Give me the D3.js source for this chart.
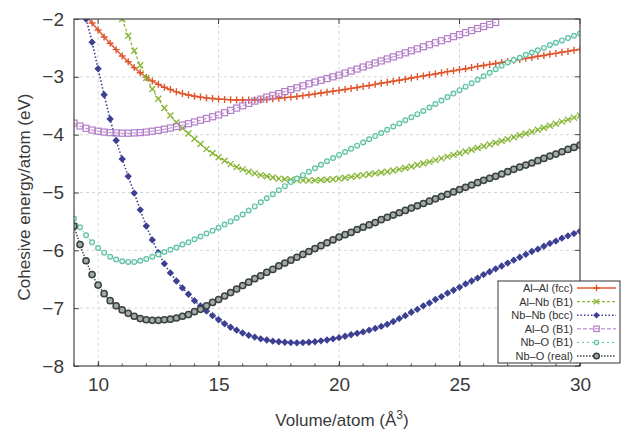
<!DOCTYPE html>
<html><head><meta charset="utf-8">
<script src="https://cdn.jsdelivr.net/npm/d3@7"></script>
<style>
html,body{margin:0;padding:0;background:#fff;}
text{font-family:"Liberation Sans",Arial,sans-serif;}
</style></head>
<body><svg id="chart" width="623" height="431"></svg>
<script>
// Volumes (Å^3), sampled every 0.25 from 9 to 30
const volumes = [9,9.25,9.5,9.75,10,10.25,10.5,10.75,11,11.25,11.5,11.75,12,12.25,12.5,12.75,13,13.25,13.5,13.75,14,14.25,14.5,14.75,15,15.25,15.5,15.75,16,16.25,16.5,16.75,17,17.25,17.5,17.75,18,18.25,18.5,18.75,19,19.25,19.5,19.75,20,20.25,20.5,20.75,21,21.25,21.5,21.75,22,22.25,22.5,22.75,23,23.25,23.5,23.75,24,24.25,24.5,24.75,25,25.25,25.5,25.75,26,26.25,26.5,26.75,27,27.25,27.5,27.75,28,28.25,28.5,28.75,29,29.25,29.5,29.75,30];

// Cohesive energy per atom (eV); null = outside plotted range
const alAl = [null,null,-1.94,-2.07,-2.19,-2.31,-2.42,-2.53,-2.64,-2.74,-2.84,-2.93,-3.01,-3.07,-3.13,-3.18,-3.22,-3.26,-3.29,-3.315,-3.335,-3.35,-3.365,-3.375,-3.385,-3.39,-3.395,-3.40,-3.40,-3.40,-3.40,-3.395,-3.39,-3.38,-3.37,-3.36,-3.35,-3.34,-3.325,-3.31,-3.295,-3.28,-3.265,-3.25,-3.235,-3.22,-3.20,-3.185,-3.165,-3.15,-3.13,-3.11,-3.095,-3.075,-3.06,-3.04,-3.02,-3.00,-2.985,-2.965,-2.95,-2.93,-2.91,-2.895,-2.875,-2.86,-2.84,-2.82,-2.805,-2.785,-2.77,-2.75,-2.735,-2.715,-2.70,-2.68,-2.665,-2.645,-2.63,-2.61,-2.595,-2.575,-2.56,-2.54,-2.525];

const alNb = [null,null,null,null,null,null,null,null,-2.00,-2.29,-2.55,-2.80,-3.02,-3.21,-3.38,-3.54,-3.67,-3.79,-3.89,-3.98,-4.07,-4.16,-4.25,-4.32,-4.39,-4.45,-4.51,-4.56,-4.60,-4.64,-4.67,-4.70,-4.72,-4.74,-4.76,-4.77,-4.78,-4.785,-4.79,-4.79,-4.79,-4.785,-4.78,-4.77,-4.76,-4.745,-4.73,-4.715,-4.70,-4.685,-4.67,-4.655,-4.64,-4.62,-4.60,-4.575,-4.55,-4.525,-4.50,-4.47,-4.44,-4.41,-4.38,-4.35,-4.32,-4.29,-4.26,-4.23,-4.20,-4.17,-4.14,-4.11,-4.08,-4.045,-4.01,-3.98,-3.95,-3.915,-3.88,-3.845,-3.81,-3.775,-3.74,-3.705,-3.67];

const nbNb = [null,null,-2.00,-2.40,-2.86,-3.31,-3.73,-4.10,-4.42,-4.72,-5.01,-5.30,-5.58,-5.82,-6.04,-6.23,-6.39,-6.53,-6.65,-6.76,-6.87,-6.96,-7.05,-7.13,-7.20,-7.27,-7.33,-7.38,-7.43,-7.47,-7.50,-7.53,-7.55,-7.57,-7.58,-7.59,-7.595,-7.60,-7.595,-7.59,-7.58,-7.565,-7.55,-7.53,-7.51,-7.485,-7.46,-7.435,-7.41,-7.38,-7.35,-7.315,-7.28,-7.23,-7.18,-7.13,-7.07,-7.02,-6.96,-6.91,-6.85,-6.80,-6.74,-6.69,-6.64,-6.58,-6.53,-6.48,-6.42,-6.37,-6.32,-6.27,-6.22,-6.17,-6.12,-6.07,-6.02,-5.98,-5.93,-5.88,-5.84,-5.79,-5.75,-5.71,-5.67];

const alO = [-3.80,-3.85,-3.89,-3.92,-3.94,-3.955,-3.965,-3.97,-3.975,-3.975,-3.97,-3.965,-3.955,-3.94,-3.925,-3.905,-3.885,-3.86,-3.835,-3.81,-3.78,-3.75,-3.72,-3.69,-3.66,-3.62,-3.58,-3.54,-3.50,-3.46,-3.42,-3.385,-3.35,-3.32,-3.29,-3.255,-3.22,-3.19,-3.155,-3.12,-3.09,-3.06,-3.03,-3.00,-2.97,-2.935,-2.90,-2.865,-2.83,-2.795,-2.76,-2.725,-2.69,-2.655,-2.62,-2.585,-2.55,-2.515,-2.48,-2.445,-2.41,-2.375,-2.34,-2.305,-2.27,-2.235,-2.20,-2.165,-2.13,-2.095,-2.06,null,null,null,null,null,null,null,null,null,null,null,null,null,null];

const nbOB1 = [-5.45,-5.60,-5.74,-5.86,-5.96,-6.04,-6.11,-6.16,-6.19,-6.20,-6.20,-6.18,-6.15,-6.11,-6.07,-6.03,-5.99,-5.95,-5.90,-5.86,-5.81,-5.76,-5.71,-5.66,-5.61,-5.555,-5.50,-5.44,-5.38,-5.31,-5.24,-5.17,-5.10,-5.03,-4.96,-4.89,-4.82,-4.76,-4.70,-4.64,-4.58,-4.52,-4.46,-4.405,-4.35,-4.30,-4.245,-4.19,-4.135,-4.08,-4.025,-3.97,-3.915,-3.86,-3.805,-3.75,-3.70,-3.645,-3.59,-3.53,-3.47,-3.41,-3.35,-3.29,-3.23,-3.17,-3.11,-3.05,-2.99,-2.93,-2.87,-2.81,-2.75,-2.71,-2.67,-2.62,-2.58,-2.54,-2.50,-2.45,-2.41,-2.37,-2.33,-2.29,-2.25];

const nbOreal = [-5.58,-5.90,-6.18,-6.42,-6.60,-6.75,-6.87,-6.96,-7.03,-7.09,-7.14,-7.18,-7.20,-7.21,-7.21,-7.20,-7.19,-7.17,-7.14,-7.11,-7.06,-7.02,-6.96,-6.90,-6.85,-6.79,-6.73,-6.67,-6.61,-6.55,-6.49,-6.44,-6.38,-6.33,-6.27,-6.22,-6.17,-6.12,-6.07,-6.02,-5.97,-5.92,-5.87,-5.82,-5.77,-5.73,-5.69,-5.64,-5.60,-5.56,-5.52,-5.47,-5.43,-5.39,-5.35,-5.31,-5.27,-5.23,-5.19,-5.15,-5.11,-5.07,-5.03,-4.99,-4.95,-4.91,-4.87,-4.83,-4.79,-4.755,-4.72,-4.68,-4.64,-4.60,-4.56,-4.525,-4.49,-4.45,-4.41,-4.37,-4.335,-4.295,-4.255,-4.22,-4.18];

const seriesNames = ["Al\u2013Al (fcc)","Al\u2013Nb (B1)","Nb\u2013Nb (bcc)","Al\u2013O (B1)","Nb\u2013O (B1)","Nb\u2013O (real)"];
const seriesValues = [alAl, alNb, nbNb, alO, nbOB1, nbOreal];
const xTicks = [10,15,20,25,30];
const yTicks = [-2,-3,-4,-5,-6,-7,-8];

const styles = [
  {color:"#e0562c", dash:null, width:1.4, marker:"plus"},
  {color:"#86b534", dash:"3,2", width:1.2, marker:"cross"},
  {color:"#3c3f92", dash:"1.5,2", width:1.6, marker:"square"},
  {color:"#b27ec8", dash:"4,2", width:1.0, marker:"osquare"},
  {color:"#5fc0a6", dash:"2,3", width:1.0, marker:"ocircle"},
  {color:"#3a4141", dash:"1.5,1.5", width:1.4, marker:"circle"}
];

const svg = d3.select("#chart");
const m = {l:74, r:580, t:19, b:366};
const x = d3.scaleLinear().domain([9,30]).range([m.l, m.r]);
const y = d3.scaleLinear().domain([-8,-2]).range([m.b, m.t]);

svg.append("defs").append("clipPath").attr("id","clip")
  .append("rect").attr("x",m.l).attr("y",m.t).attr("width",m.r-m.l).attr("height",m.b-m.t);

// grid
const grid = svg.append("g");
grid.selectAll("line.gx").data(xTicks.filter(d=>d>9&&d<30)).join("line")
  .attr("x1",d=>x(d)).attr("x2",d=>x(d)).attr("y1",m.t).attr("y2",m.b)
  .attr("stroke","#d6d6d6").attr("stroke-width",1).attr("stroke-dasharray","3,3");
grid.selectAll("line.gy").data(yTicks.filter(d=>d>-8&&d<-2)).join("line")
  .attr("y1",d=>y(d)).attr("y2",d=>y(d)).attr("x1",m.l).attr("x2",m.r)
  .attr("stroke","#d6d6d6").attr("stroke-width",1).attr("stroke-dasharray","3,3");

// series
const plot = svg.append("g").attr("clip-path","url(#clip)");
seriesValues.forEach((vals,i)=>{
  const st = styles[i];
  const pts = volumes.map((v,j)=>[v, vals[j]]).filter(p=>p[1]!==null);
  const line = d3.line().x(d=>x(d[0])).y(d=>y(d[1])).curve(d3.curveMonotoneX);
  plot.append("path").attr("d",line(pts)).attr("fill","none")
    .attr("stroke",st.color).attr("stroke-width",st.width)
    .attr("stroke-dasharray",st.dash);
  const g = plot.append("g");
  pts.forEach(p=>drawMarker(g, x(p[0]), y(p[1]), st, 1));
});

function drawMarker(g, cx, cy, st, s){
  const c = st.color;
  if(st.marker==="plus"){
    g.append("path").attr("d",`M${cx-3.5*s},${cy}H${cx+3.5*s}M${cx},${cy-3.5*s}V${cy+3.5*s}`)
      .attr("stroke",c).attr("stroke-width",1.4).attr("fill","none");
  } else if(st.marker==="cross"){
    g.append("path").attr("d",`M${cx-3*s},${cy-3*s}L${cx+3*s},${cy+3*s}M${cx-3*s},${cy+3*s}L${cx+3*s},${cy-3*s}`)
      .attr("stroke",c).attr("stroke-width",1.3).attr("fill","none");
  } else if(st.marker==="square"){
    g.append("rect").attr("x",cx-2.6*s).attr("y",cy-2.6*s).attr("width",5.2*s).attr("height",5.2*s)
      .attr("fill",c).attr("transform",`rotate(45,${cx},${cy})`);
  } else if(st.marker==="osquare"){
    g.append("rect").attr("x",cx-3*s).attr("y",cy-3*s).attr("width",6*s).attr("height",6*s)
      .attr("fill","none").attr("stroke",c).attr("stroke-width",1.2);
  } else if(st.marker==="ocircle"){
    g.append("circle").attr("cx",cx).attr("cy",cy).attr("r",2.4*s)
      .attr("fill","#e8f6f1").attr("stroke",c).attr("stroke-width",1.2);
  } else if(st.marker==="circle"){
    g.append("circle").attr("cx",cx).attr("cy",cy).attr("r",3.1*s)
      .attr("fill","#a3aaaa").attr("stroke",c).attr("stroke-width",1.5);
  }
}

// frame
svg.append("rect").attr("x",m.l).attr("y",m.t).attr("width",m.r-m.l).attr("height",m.b-m.t)
  .attr("fill","none").attr("stroke","#444").attr("stroke-width",1.2);

// axes
const xAxis = d3.axisBottom(x).tickValues(xTicks).tickSize(-5).tickPadding(12).tickFormat(d3.format("d"));
const gx = svg.append("g").attr("transform",`translate(0,${m.b})`).call(xAxis);
const yAxis = d3.axisLeft(y).tickValues(yTicks).tickSize(-5).tickPadding(10).tickFormat(d3.format("d"));
const gy = svg.append("g").attr("transform",`translate(${m.l},0)`).call(yAxis);
[gx,gy].forEach(g=>{
  g.select(".domain").remove();
  g.selectAll(".tick line").attr("stroke","#444");
  g.selectAll(".tick text").attr("font-size",19).attr("fill","#3a3a3a").attr("font-family","Liberation Sans, Arial, sans-serif");
});
// minor ticks
const minorX = d3.range(9,30.01,1);
svg.append("g").selectAll("line").data(minorX).join("line")
  .attr("x1",d=>x(d)).attr("x2",d=>x(d)).attr("y1",m.b).attr("y2",m.b-2.5).attr("stroke","#444");
// mirrored major ticks on top and right
svg.append("g").selectAll("line").data(xTicks).join("line")
  .attr("x1",d=>x(d)).attr("x2",d=>x(d)).attr("y1",m.t).attr("y2",m.t+5).attr("stroke","#444");
svg.append("g").selectAll("line").data(yTicks).join("line")
  .attr("y1",d=>y(d)).attr("y2",d=>y(d)).attr("x1",m.r).attr("x2",m.r-5).attr("stroke","#444");

// axis titles
svg.append("text").attr("x",342).attr("y",426).attr("text-anchor","middle")
  .attr("font-size",17).attr("fill","#3a3a3a")
  .html('Volume/atom (Å<tspan dy="-7" font-size="12">3</tspan><tspan dy="7">)</tspan>');
svg.append("text").attr("transform","translate(30,197) rotate(-90)").attr("text-anchor","middle")
  .attr("font-size",17).attr("fill","#3a3a3a").text("Cohesive energy/atom (eV)");

// legend
const lg = svg.append("g");
lg.append("rect").attr("x",498).attr("y",281).attr("width",122).attr("height",82)
  .attr("fill","#fff").attr("stroke","#333").attr("stroke-width",1);
seriesNames.forEach((name,i)=>{
  const ly = 288 + i*13.6;
  lg.append("text").attr("x",573).attr("y",ly+4).attr("text-anchor","end")
    .attr("font-size",11).attr("fill","#333").text(name);
  const st = styles[i];
  lg.append("line").attr("x1",577).attr("x2",616).attr("y1",ly).attr("y2",ly)
    .attr("stroke",st.color).attr("stroke-width",st.width).attr("stroke-dasharray",st.dash);
  drawMarker(lg, 596.5, ly, st, 0.9);
});
</script>
</body></html>
